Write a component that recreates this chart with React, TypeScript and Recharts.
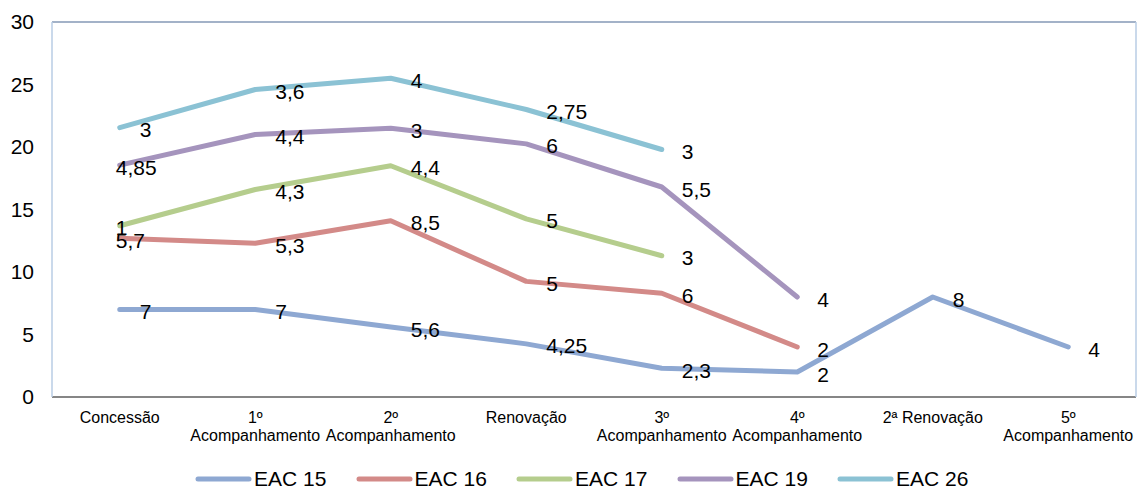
import React from "react";
import {
  LineChart, Line, XAxis, YAxis, CartesianGrid, Legend, LabelList, ReferenceLine,
} from "recharts";

const categories = [
  "Concessão",
  "1º\nAcompanhamento",
  "2º\nAcompanhamento",
  "Renovação",
  "3º\nAcompanhamento",
  "4º\nAcompanhamento",
  "2ª Renovação",
  "5º\nAcompanhamento",
];

// raw values (the chart stacks them, labels show the raw value)
const eac15 = [7, 7, 5.6, 4.25, 2.3, 2, 8, 4];
const eac16 = [5.7, 5.3, 8.5, 5, 6, 2, null, null];
const eac17 = [1, 4.3, 4.4, 5, 3, null, null, null];
const eac19 = [4.85, 4.4, 3, 6, 5.5, 4, null, null];
const eac26 = [3, 3.6, 4, 2.75, 3, null, null, null];

const yTicks = [0, 5, 10, 15, 20, 25, 30];

const SERIES = [
  { key: "s15", name: "EAC 15", values: eac15, color: "#8ea8d2" },
  { key: "s16", name: "EAC 16", values: eac16, color: "#d38a88" },
  { key: "s17", name: "EAC 17", values: eac17, color: "#b5cd8d" },
  { key: "s19", name: "EAC 19", values: eac19, color: "#a594bd" },
  { key: "s26", name: "EAC 26", values: eac26, color: "#8bc2d4" },
];

// a few labels in the first column sit further left in the original
const shiftedFirst = ["s16", "s17", "s19"];

const FONT = '"Liberation Sans", Arial, sans-serif';

const chartData = categories.map((cat, i) => {
  const row: Record<string, any> = { cat };
  let acc = 0;
  SERIES.forEach((s) => {
    const v = s.values[i];
    row["raw_" + s.key] = v;
    if (v == null) {
      row[s.key] = null;
    } else {
      acc += v;
      row[s.key] = +acc.toFixed(4);
    }
  });
  return row;
});

const fmt = (v: number) => String(v).replace(".", ",");

const makeLabel = (key: string) => (props: any) => {
  const { x, y, value, index } = props;
  if (value == null || x == null || y == null) return null;
  const dx = index === 0 && shiftedFirst.includes(key) ? -4 : 20;
  return (
    <text x={x + dx} y={y + 2} dominantBaseline="central" fontSize={21} fill="#000" fontFamily={FONT}>
      {fmt(value)}
    </text>
  );
};

const CatTick = (props: any) => {
  const { x, y, payload } = props;
  const lines = String(payload.value).split("\n");
  return (
    <text x={x} y={y} textAnchor="middle" fontSize={16} fill="#000" fontFamily={FONT}>
      {lines.map((l, i) => (
        <tspan key={i} x={x} dy={i === 0 ? 18 : 18}>{l}</tspan>
      ))}
    </text>
  );
};

const LegendBox = () => (
  <div style={{ position: "relative", height: 31, width: 1137 }}>
    {SERIES.map((s, i) => (
      <div
        key={s.key}
        style={{ position: "absolute", left: 195 + i * 160.5, top: 12, display: "flex", alignItems: "center" }}
      >
        <svg width={57} height={8}>
          <line x1={3} y1={4} x2={54} y2={4} stroke={s.color} strokeWidth={5} strokeLinecap="round" />
        </svg>
        <span style={{ fontFamily: FONT, fontSize: 21, color: "#000", marginLeft: 2, lineHeight: "20px" }}>
          {s.name}
        </span>
      </div>
    ))}
  </div>
);

export default function App() {
  return (
    <div style={{ position: "absolute", left: 0, top: 0 }}>
      <LineChart
        width={1137}
        height={488}
        data={chartData}
        margin={{ top: 22, right: 0, left: 0, bottom: 0 }}
        style={{ fontFamily: FONT }}
      >
        <CartesianGrid vertical={false} stroke="#8a8a8a" strokeWidth={1.2} />
        <XAxis
          dataKey="cat"
          interval={0}
          height={60}
          tickLine={false}
          axisLine={{ stroke: "#868686", strokeWidth: 2 }}
          padding={{ left: 67.75, right: 67.75 }}
          tick={<CatTick />}
        />
        <YAxis
          yAxisId="l"
          width={52}
          domain={[0, 30]}
          ticks={yTicks}
          tickLine={false}
          tickSize={0}
          tickMargin={18}
          axisLine={{ stroke: "#b9cde5", strokeWidth: 1.5 }}
          tick={{ fontSize: 21, fill: "#000", fontFamily: FONT }}
        />
        <YAxis
          yAxisId="r"
          orientation="right"
          width={1}
          domain={[0, 30]}
          tick={false}
          tickLine={false}
          axisLine={{ stroke: "#b9cde5", strokeWidth: 1.5 }}
        />
        <ReferenceLine yAxisId="l" y={30} stroke="#98acca" strokeWidth={1.5} />
        {SERIES.map((s) => (
          <Line
            key={s.key}
            yAxisId="l"
            type="linear"
            dataKey={s.key}
            name={s.name}
            stroke={s.color}
            strokeWidth={5}
            strokeLinecap="round"
            strokeLinejoin="round"
            dot={false}
            activeDot={false}
            connectNulls={false}
            isAnimationActive={false}
          >
            <LabelList dataKey={"raw_" + s.key} content={makeLabel(s.key)} />
          </Line>
        ))}
        <Legend verticalAlign="bottom" height={31} content={() => <LegendBox />} />
      </LineChart>
    </div>
  );
}
